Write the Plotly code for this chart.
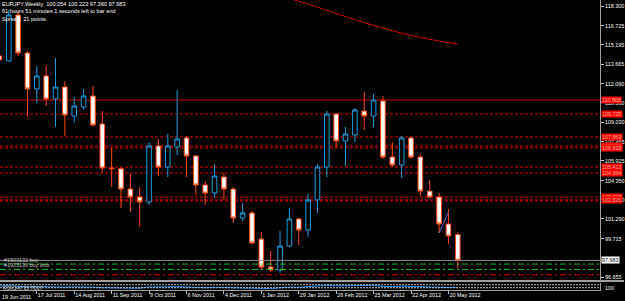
import plotly.graph_objects as go
import pandas as pd

# ---------------- data ----------------
first_week = "2011-06-19"
opens  = [114.31,113.91,117.58,114.55,111.67,112.71,110.87,111.83,109.51,110.23,
          111.11,108.88,105.36,105.30,103.68,103.04,102.65,107.12,105.44,107.04,
          107.76,106.32,104.00,103.36,104.64,103.68,101.37,101.77,99.69,97.45,
          97.21,99.13,101.29,100.41,102.81,105.44,109.67,107.52,108.00,109.91,
          109.51,110.71,106.24,105.60,107.76,106.24,103.52,103.04,100.89,100.054]
highs  = [114.60,118.00,117.90,114.71,113.51,113.51,114.15,112.31,111.03,111.67,
          111.91,109.91,106.96,105.40,104.88,103.84,107.44,107.68,108.08,111.59,
          107.92,106.40,104.32,105.68,104.96,103.84,102.57,101.93,100.25,98.73,
          100.33,102.17,101.40,103.28,105.68,109.91,109.75,108.64,110.15,111.43,
          111.27,111.11,107.44,107.92,107.80,106.48,104.40,103.36,102.09,100.223]
lows   = [113.80,113.83,114.31,109.43,110.55,110.31,108.64,107.92,108.96,110.00,
          108.72,104.96,103.84,102.17,101.85,100.65,102.40,104.72,104.64,106.40,
          104.64,103.20,102.41,102.97,102.81,100.97,101.13,99.30,97.21,97.05,
          96.97,99.05,99.21,99.85,101.77,104.64,107.04,105.52,107.44,108.40,
          108.64,106.08,105.44,104.56,106.08,103.12,103.00,100.17,99.29,97.360]
closes = [113.99,117.58,114.55,111.67,112.71,110.87,111.83,109.59,110.31,111.11,
          108.80,105.36,105.30,103.68,103.04,102.65,107.12,105.44,107.12,107.68,
          106.32,104.00,103.36,104.72,103.68,101.37,101.77,99.37,97.45,97.21,
          99.13,101.29,100.41,102.81,105.44,109.67,107.52,108.08,110.00,109.51,
          110.79,106.24,105.60,107.76,106.24,103.52,103.04,100.89,99.93,97.983]

rsi_vals = [52,60,50,42,45,40,44,38,41,44,
            38,30,30,27,26,25,40,36,42,44,
            38,32,30,36,33,27,29,24,20,19,
            30,38,35,44,52,62,55,57,62,60,
            63,48,45,52,47,40,39,35,33,35.7]

ma_weeks  = ["2012-01-22","2012-02-05","2012-02-26","2012-03-25","2012-04-22","2012-05-13","2012-05-27"]
ma_values = [118.90,118.45,117.70,116.75,115.95,115.50,115.25]

trend_dates  = ["2012-05-13","2012-05-20"]
trend_prices = [100.17,101.85]

price_ticks = [118.300,116.725,115.195,113.665,112.090,110.560,109.030,107.455,
               105.925,104.350,102.820,101.290,99.715,96.655]

solid_levels  = [110.79]
dotted_levels = [109.67,107.84,107.12,106.96,105.44,104.96,103.04,102.81,102.73]
level_labels  = [110.808,109.735,107.869,107.095,106.918,105.413,104.994,103.038,102.820]

bid_price = 97.983
buy_levels  = [97.69,97.26]
stop_level  = 96.84
order_texts = ["#1923132 buy","#1923136 buy limit"]

date_tick_labels = ["19 Jun 2011","17 Jul 2011","14 Aug 2011","11 Sep 2011","9 Oct 2011",
                    "6 Nov 2011","4 Dec 2011","1 Jan 2012","29 Jan 2012","26 Feb 2012",
                    "25 Mar 2012","22 Apr 2012","20 May 2012"]

# ---------------- figure ----------------
dates = pd.date_range(first_week, periods=len(opens), freq="7D")
tick_dates = pd.to_datetime(date_tick_labels, format="%d %b %Y")

W, H = 625, 301
ml, mr, mt, mb = 0, 23, 0, 11
ph = H - mt - mb
px_week = 9.386
x_start = dates[0] + pd.Timedelta(days=7 * 0.6 / px_week)
x_end = x_start + pd.Timedelta(days=7 * (W - ml - mr) / px_week)

y_top, y_bot = 118.779, 96.336
main_dom = [9 / ph, 1]
rsi_dom = [0, 7.5 / ph]

BLUE = "#1a9fe0"
ORANGE = "#ff4a10"
FONT = "Liberation Sans"

fig = go.Figure()
fig.add_trace(go.Candlestick(
    x=dates, open=opens, high=highs, low=lows, close=closes,
    increasing=dict(line=dict(color=BLUE, width=1), fillcolor="#000000"),
    decreasing=dict(line=dict(color=ORANGE, width=1), fillcolor="#ffffff"),
    whiskerwidth=0, hoverinfo="skip", showlegend=False, yaxis="y"))

fig.add_trace(go.Scatter(x=pd.to_datetime(ma_weeks), y=ma_values, mode="lines",
                         line=dict(color="#d00000", width=1, shape="spline"),
                         hoverinfo="skip", showlegend=False, yaxis="y"))
fig.add_trace(go.Scatter(x=pd.to_datetime(trend_dates), y=trend_prices, mode="lines",
                         line=dict(color="#7060d0", width=1),
                         hoverinfo="skip", showlegend=False, yaxis="y"))
fig.add_trace(go.Scatter(x=dates, y=rsi_vals, mode="lines",
                         line=dict(color="#1e90ff", width=1),
                         hoverinfo="skip", showlegend=False, yaxis="y2"))

shapes = []
for lv in solid_levels:
    shapes.append(dict(type="line", xref="paper", x0=0, x1=1, yref="y", y0=lv, y1=lv,
                       line=dict(color="#d00000", width=1), layer="below"))
for lv in dotted_levels:
    shapes.append(dict(type="line", xref="paper", x0=0, x1=1, yref="y", y0=lv, y1=lv,
                       line=dict(color="#e00000", width=1, dash="3px,2px"), layer="below"))
shapes.append(dict(type="line", xref="paper", x0=0, x1=1, yref="y", y0=bid_price, y1=bid_price,
                   line=dict(color="#909090", width=1)))
for lv in buy_levels:
    shapes.append(dict(type="line", xref="paper", x0=0, x1=1, yref="y", y0=lv, y1=lv,
                       line=dict(color="#20c020", width=1, dash="6px,3px,2px,3px")))
shapes.append(dict(type="line", xref="paper", x0=0, x1=1, yref="y", y0=stop_level, y1=stop_level,
                   line=dict(color="#e00000", width=1, dash="6px,3px,2px,3px")))
# separator between main window and RSI window
sep = (ph - 281) / ph
shapes.append(dict(type="line", xref="paper", x0=0, x1=1.04, yref="paper", y0=sep, y1=sep,
                   line=dict(color="#a0a0a0", width=2)))
for lv in [70, 30]:
    shapes.append(dict(type="line", xref="paper", x0=0, x1=1, yref="y2", y0=lv, y1=lv,
                       line=dict(color="#c0c0c0", width=1, dash="2px,1px")))

ann = []
ann.append(dict(xref="paper", yref="paper", x=0, y=1, xanchor="left", yanchor="top",
                xshift=0, yshift=1, align="left", showarrow=False,
                text="EURJPY,Weekly&nbsp;&nbsp;100.054 100.223 97.360 97.983<br>"
                     "61 hours 51 minutes 1 seconds left to bar end<br>Spread: 21 points.",
                font=dict(family=FONT, size=5.6, color="#ffffff")))
for lv, lab in zip(solid_levels + dotted_levels, level_labels):
    ann.append(dict(xref="paper", yref="y", x=1, y=lv, xanchor="left", yanchor="middle",
                    xshift=1, showarrow=False, text=f"{lab:.3f}", bgcolor="#ff0000",
                    borderpad=0, font=dict(family=FONT, size=5.4, color="#ffb0a0")))
ann.append(dict(xref="paper", yref="y", x=1, y=bid_price, xanchor="left", yanchor="middle",
                xshift=1, showarrow=False, text=f"{bid_price:.3f}", bgcolor="#ffffff",
                borderpad=0, font=dict(family=FONT, size=5.4, color="#000000")))
for lv, t in zip(buy_levels, order_texts):
    ann.append(dict(xref="paper", yref="y", x=0, y=lv, xanchor="left", yanchor="bottom",
                    xshift=2, yshift=-1, showarrow=False, text=t,
                    font=dict(family=FONT, size=5.4, color="#c8c8c8")))
ann.append(dict(xref="paper", yref="paper", x=0, y=rsi_dom[1], xanchor="left", yanchor="top",
                xshift=1, showarrow=False, text="RSI(14) 35.7017",
                font=dict(family=FONT, size=5.4, color="#c8c8c8")))
ann.append(dict(xref="paper", yref="paper", x=1, y=rsi_dom[1], xanchor="left", yanchor="top",
                xshift=3, showarrow=False, text="100",
                font=dict(family=FONT, size=5.4, color="#ffffff")))
# first date label sits at the very left edge (its tick is just outside the range)
ann.append(dict(xref="paper", yref="paper", x=0, y=0, xanchor="left", yanchor="top",
                xshift=0, yshift=-2, showarrow=False, text=date_tick_labels[0],
                font=dict(family=FONT, size=5.4, color="#ffffff")))

fig.update_layout(
    width=W, height=H, margin=dict(l=ml, r=mr, t=mt, b=mb),
    paper_bgcolor="#000000", plot_bgcolor="#000000",
    showlegend=False, shapes=shapes, annotations=ann,
    font=dict(family=FONT, size=5.4, color="#ffffff"),
    xaxis=dict(type="date", range=[x_start, x_end], rangeslider=dict(visible=False),
               showgrid=False, zeroline=False, anchor="y2",
               tickvals=tick_dates[1:], ticktext=date_tick_labels[1:], tickangle=0,
               ticks="outside", ticklen=3, tickcolor="#c0c0c0", tickwidth=1,
               ticklabelposition="outside right", ticklabelstandoff=0,
               tickfont=dict(family=FONT, size=5.4, color="#ffffff"),
               showline=True, linecolor="#a0a0a0", linewidth=1),
    yaxis=dict(domain=main_dom, range=[y_bot, y_top], side="right", anchor="x",
               showgrid=False, zeroline=False,
               tickvals=price_ticks, ticktext=[f"{v:.3f}" for v in price_ticks],
               ticks="outside", ticklen=3, tickcolor="#c0c0c0",
               tickfont=dict(family=FONT, size=5.4, color="#ffffff"),
               showline=True, linecolor="#a0a0a0", linewidth=1),
    yaxis2=dict(domain=rsi_dom, range=[0, 100], side="right", anchor="x",
                showgrid=False, zeroline=False, showticklabels=False, ticks="",
                showline=True, linecolor="#a0a0a0", linewidth=1),
)

fig.write_html("out.html")
